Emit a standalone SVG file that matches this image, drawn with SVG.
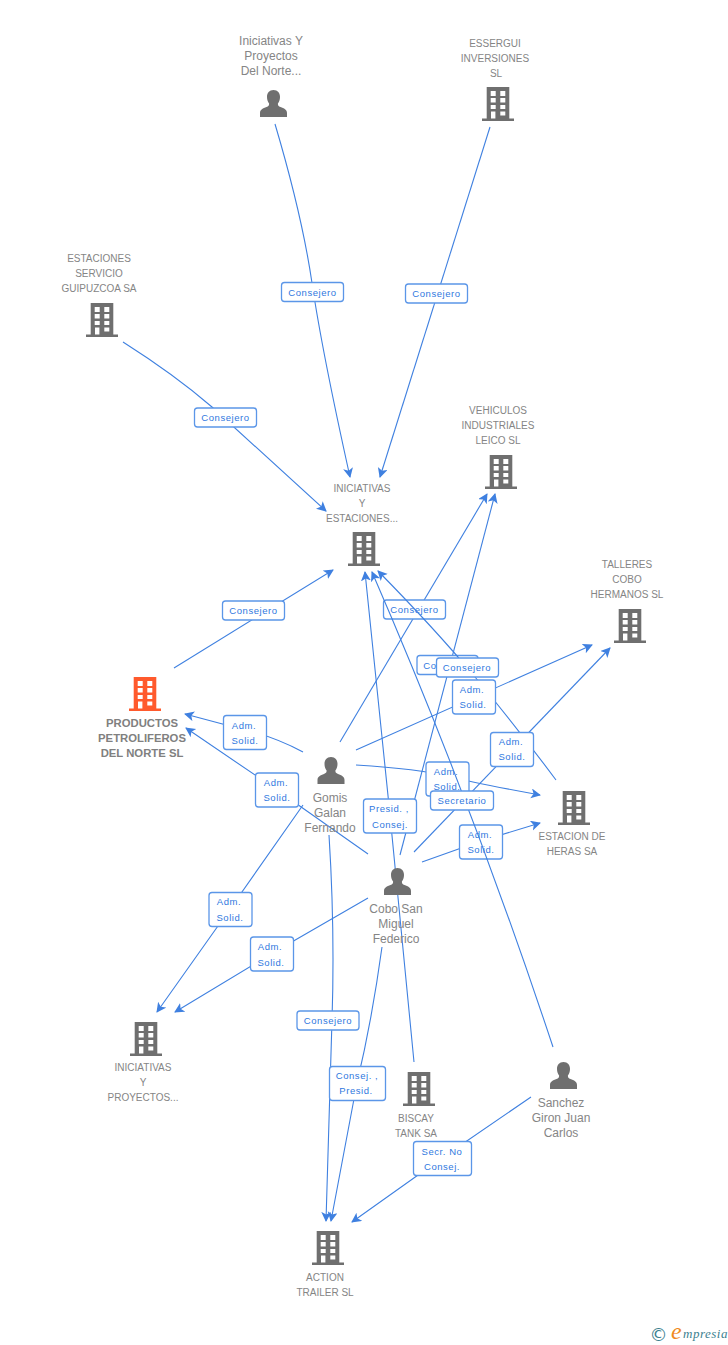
<svg xmlns="http://www.w3.org/2000/svg" xmlns:xlink="http://www.w3.org/1999/xlink" width="728" height="1345" viewBox="0 0 728 1345">
<style>
text{font-family:"Liberation Sans",Arial,sans-serif}
.n{font-size:10px;fill:#858585;text-anchor:middle}
.p{font-size:12px;fill:#858585;text-anchor:middle}
.b{font-size:11.300px;font-weight:bold;fill:#808080;text-anchor:middle}
.e{fill:none;stroke:#3f80e0;stroke-width:1.1;marker-end:url(#a)}
.l{fill:#fff;stroke:#5b96e8;stroke-width:1.3}
.t{font-size:9.5px;fill:#2f78e0;text-anchor:middle;letter-spacing:.55px}
</style>
<defs>
<marker id="a" markerUnits="userSpaceOnUse" markerWidth="12" markerHeight="12" refX="9" refY="5" orient="auto"><path d="M0 0L10 5L0 10L2.5 5Z" fill="#3f80e0"/></marker>
<path id="bd" fill-rule="evenodd" d="M-11.3 0H11.3V31.5H16V34H-16V31.5H-11.3ZM-7.3 4V9H-2.3V4ZM2.3 4V9H7.3V4ZM-7.3 11V15.5H-2.3V11ZM2.3 11V15.5H7.3V11ZM-7.3 18V22H-2.3V18ZM2.3 18V22H7.3V18ZM-7 24.5V31.5H-2.6V24.5ZM2.3 24.5V28.5H7.3V24.5Z"/>
<path id="pr" d="M0 0C4.2 0 6.5 3.2 6.5 7C6.5 9.8 5.6 12 4.4 13.5C4.3 15.5 5 16.3 7 17C10.5 18.2 13.5 19.5 13.5 23V27H-13.5V23C-13.5 19.5 -10.5 18.2 -7 17C-5 16.3 -4.3 15.500 -4.4 13.5C-5.6 12 -6.5 9.8 -6.5 7C-6.5 3.2 -4.2 0 0 0Z"/>
</defs>
<rect width="728" height="1345" fill="#fff"/>
<g id="connectors">
<path class="e" d="M275 124Q302 215 312 283T350 477"/>
<rect class="l" x="281.500" y="282.500" width="62" height="19" rx="3"/><text class="t" x="312.500" y="296">Consejero</text>
<path class="e" d="M490 127L380 477"/>
<rect class="l" x="405.500" y="284" width="62" height="19" rx="3"/><text class="t" x="436.500" y="297">Consejero</text>
<path class="e" d="M123 342Q175 375 212 407L326 511"/>
<rect class="l" x="194.500" y="408" width="62" height="19" rx="3"/><text class="t" x="225.500" y="421">Consejero</text>
<path class="e" d="M174 668L333 570"/>
<rect class="l" x="222.500" y="601" width="62" height="19" rx="3"/><text class="t" x="253.500" y="614">Consejero</text>
<path class="e" d="M340 742L487 494"/>
<rect class="l" x="383.500" y="600" width="62" height="19" rx="3"/><text class="t" x="414.500" y="613">Consejero</text>
<path class="e" d="M400 855L495 494"/>
<rect class="l" x="417" y="655.500" width="61" height="19" rx="3"/><text class="t" x="447.500" y="669">Consejero</text>
<path class="e" d="M556 780Q515 725 475 677T378 571"/>
<rect class="l" x="436.500" y="658" width="62" height="19" rx="3"/><text class="t" x="467" y="671">Consejero</text>
<path class="e" d="M356 750L592 645"/>
<rect class="l" x="452.500" y="680" width="43" height="34" rx="3"/><text class="t" x="472" y="693">Adm.</text><text class="t" x="473" y="708">Solid.</text>
<path class="e" d="M414 852L610 648"/>
<rect class="l" x="490.500" y="732.500" width="43" height="34" rx="3"/><text class="t" x="511" y="745">Adm.</text><text class="t" x="512" y="760">Solid.</text>
<path class="e" d="M356 765Q420 769 447 776T540 795"/>
<rect class="l" x="426" y="762" width="43" height="34" rx="3"/><text class="t" x="446" y="775">Adm.</text><text class="t" x="447" y="790">Solid.</text>
<path class="e" d="M422 862L481 841L540 823"/>
<rect class="l" x="459.500" y="825" width="43" height="34" rx="3"/><text class="t" x="480" y="838">Adm.</text><text class="t" x="481" y="853">Solid.</text>
<path class="e" d="M553 1047Q471 800 372 572"/>
<rect class="l" x="430.500" y="791" width="63" height="19" rx="3"/><text class="t" x="462" y="804">Secretario</text>
<path class="e" d="M414 1062L390 815L365 572"/>
<rect class="l" x="363.500" y="799" width="53" height="34" rx="3"/><text class="t" x="389" y="812">Presid. ,</text><text class="t" x="390" y="828">Consej.</text>
<path class="e" d="M303 752Q275 737 245 730L185 714"/>
<rect class="l" x="223.500" y="715.500" width="43" height="34" rx="3"/><text class="t" x="244" y="729">Adm.</text><text class="t" x="245" y="744">Solid.</text>
<path class="e" d="M368 854L277 790L186 728"/>
<rect class="l" x="255.500" y="773" width="43" height="34" rx="3"/><text class="t" x="276" y="786">Adm.</text><text class="t" x="277" y="801">Solid.</text>
<path class="e" d="M303 805L230 909L157 1012"/>
<rect class="l" x="209" y="892.500" width="43" height="34" rx="3"/><text class="t" x="229" y="905">Adm.</text><text class="t" x="230" y="921">Solid.</text>
<path class="e" d="M368 898L271 954L175 1012"/>
<rect class="l" x="250.500" y="937" width="43" height="34" rx="3"/><text class="t" x="270" y="950">Adm.</text><text class="t" x="271" y="966">Solid.</text>
<path class="e" d="M329 835Q335 930 332 1020L326 1221"/>
<rect class="l" x="297" y="1011" width="62" height="19" rx="3"/><text class="t" x="328" y="1024">Consejero</text>
<path class="e" d="M382 947Q372 1020 357 1083L331 1221"/>
<rect class="l" x="329.500" y="1066.500" width="56" height="34" rx="3"/><text class="t" x="357" y="1079">Consej. ,</text><text class="t" x="356" y="1094">Presid.</text>
<path class="e" d="M531 1097L442 1158L352 1222"/>
<rect class="l" x="413.500" y="1141.500" width="58" height="34" rx="3"/><text class="t" x="442" y="1155">Secr.  No</text><text class="t" x="442" y="1170">Consej.</text>
</g>
<g id="n1" fill="#6f6f6f"><text class="p" x="271" y="45">Iniciativas Y</text><text class="p" x="271" y="60">Proyectos</text><text class="p" x="271" y="75">Del Norte...</text><use xlink:href="#pr" href="#pr" x="273.500" y="90"/></g>
<g id="n2" fill="#6f6f6f"><text class="n" x="495" y="47">ESSERGUI</text><text class="n" x="495" y="62">INVERSIONES</text><text class="n" x="496" y="77">SL</text><use xlink:href="#bd" href="#bd" x="498" y="87"/></g>
<g id="n3" fill="#6f6f6f"><text class="n" x="99" y="262">ESTACIONES</text><text class="n" x="99" y="277">SERVICIO</text><text class="n" x="99" y="292">GUIPUZCOA SA</text><use xlink:href="#bd" href="#bd" x="102" y="303"/></g>
<g id="n4" fill="#6f6f6f"><text class="n" x="498" y="414">VEHICULOS</text><text class="n" x="498" y="429">INDUSTRIALES</text><text class="n" x="498" y="444">LEICO SL</text><use xlink:href="#bd" href="#bd" x="501" y="455"/></g>
<g id="n5" fill="#6f6f6f"><text class="n" x="362" y="492">INICIATIVAS</text><text class="n" x="362" y="507">Y</text><text class="n" x="362" y="522">ESTACIONES...</text><use xlink:href="#bd" href="#bd" x="364" y="532"/></g>
<g id="n6" fill="#6f6f6f"><text class="n" x="627" y="568">TALLERES</text><text class="n" x="627" y="583">COBO</text><text class="n" x="627" y="598">HERMANOS SL</text><use xlink:href="#bd" href="#bd" x="630" y="609"/></g>
<g id="n7" fill="#ff5a2d"><use xlink:href="#bd" href="#bd" x="145" y="677"/><text class="b" x="142" y="727">PRODUCTOS</text><text class="b" x="142" y="742">PETROLIFEROS</text><text class="b" x="142" y="757">DEL NORTE SL</text></g>
<g id="n8" fill="#6f6f6f"><use xlink:href="#pr" href="#pr" x="331" y="757"/><text class="p" x="330" y="802">Gomis</text><text class="p" x="330" y="817">Galan</text><text class="p" x="330" y="832">Fernando</text></g>
<g id="n9" fill="#6f6f6f"><use xlink:href="#bd" href="#bd" x="574" y="791"/><text class="n" x="572" y="840">ESTACION DE</text><text class="n" x="572" y="855">HERAS SA</text></g>
<g id="n10" fill="#6f6f6f"><use xlink:href="#pr" href="#pr" x="397.500" y="868"/><text class="p" x="396" y="913">Cobo San</text><text class="p" x="396" y="928">Miguel</text><text class="p" x="396" y="943">Federico</text></g>
<g id="n11" fill="#6f6f6f"><use xlink:href="#bd" href="#bd" x="146" y="1022"/><text class="n" x="143" y="1071">INICIATIVAS</text><text class="n" x="143" y="1086">Y</text><text class="n" x="143" y="1101">PROYECTOS...</text></g>
<g id="n12" fill="#6f6f6f"><use xlink:href="#bd" href="#bd" x="419" y="1072"/><text class="n" x="416" y="1122">BISCAY</text><text class="n" x="416" y="1137">TANK SA</text></g>
<g id="n13" fill="#6f6f6f"><use xlink:href="#pr" href="#pr" x="563.500" y="1062"/><text class="p" x="561" y="1107">Sanchez</text><text class="p" x="561" y="1122">Giron Juan</text><text class="p" x="561" y="1137">Carlos</text></g>
<g id="n14" fill="#6f6f6f"><use xlink:href="#bd" href="#bd" x="328" y="1231"/><text class="n" x="325" y="1281">ACTION</text><text class="n" x="325" y="1296">TRAILER SL</text></g>
<g id="logo"><text x="649.500" y="1341" font-size="18" fill="#3d7f8f" style="font-family:'DejaVu Sans',sans-serif">©</text><text x="671" y="1339" font-size="24" fill="#f08a1e" font-style="italic" style="font-family:'Liberation Serif',serif">e</text><text x="683" y="1338" font-size="13" fill="#3d7f8f" font-style="italic" style="font-family:'Liberation Serif',serif" letter-spacing=".5">mpresia</text></g>
</svg>
